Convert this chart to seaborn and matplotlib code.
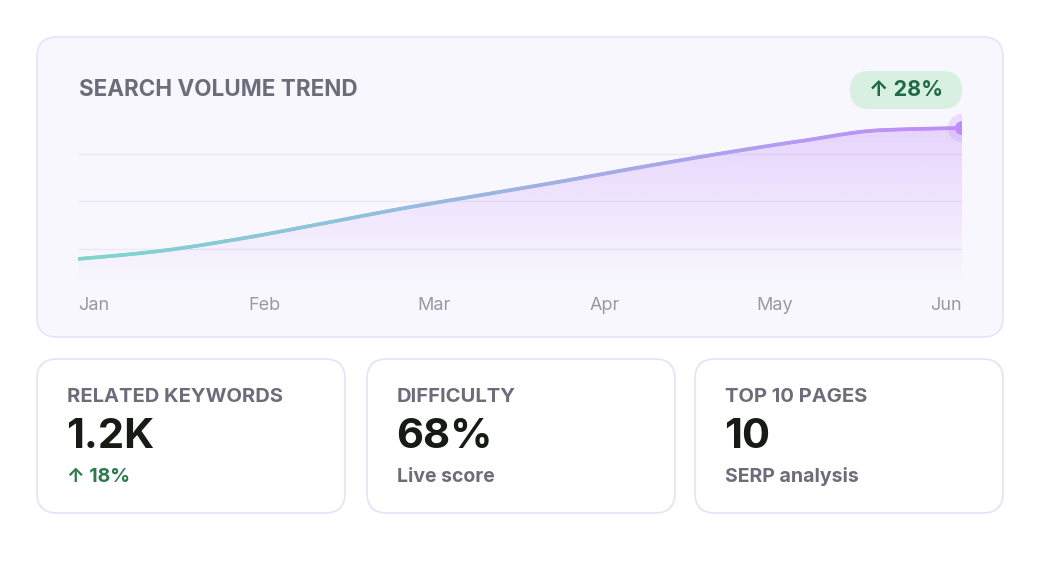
import numpy as np
import matplotlib
matplotlib.use("Agg")
import matplotlib.pyplot as plt
import seaborn as sns
from matplotlib.patches import FancyBboxPatch
from matplotlib.collections import LineCollection
from matplotlib.colors import to_rgb, LinearSegmentedColormap

# --- Data ---
volume = [19.5, 23.6, 30.0, 37.8, 45.8, 53.0, 60.2, 67.8, 75.0, 81.6, 87.3, 88.4]  # biweekly index
months = ["Jan", "Feb", "Mar", "Apr", "May", "Jun"]
trend_badge = "↑ 28%"
card_titles = ["RELATED KEYWORDS", "DIFFICULTY", "TOP 10 PAGES"]
card_values = ["1.2K", "68%", "10"]
card_notes = ["↑ 18%", "Live score", "SERP analysis"]
card_note_colors = ["#2b7a50", "#6d6c7a", "#6d6c7a"]

# --- Style ---
sns.set_theme(style="white")
plt.rcParams["font.family"] = ["Inter", "DejaVu Sans"]

W, H = 1040, 580
fig = plt.figure(figsize=(W / 100, H / 100), dpi=100)
fig.patch.set_facecolor("white")

# background axes in pixel coords
bg = fig.add_axes([0, 0, 1, 1])
bg.set_xlim(0, W)
bg.set_ylim(H, 0)
bg.axis("off")


def card(x, y, w, h, face, edge):
    bg.add_patch(FancyBboxPatch((x, y), w, h, boxstyle="round,pad=0,rounding_size=20",
                                facecolor=face, edgecolor=edge, linewidth=1.2))


card(37, 37, 966, 300, "#f9f7fe", "#e8e2f8")
bg.text(79, 90, "SEARCH VOLUME TREND", fontsize=16.2, fontweight="bold",
        color="#6d6c7a", va="center", ha="left")

# badge
bg.add_patch(FancyBboxPatch((850, 71), 112, 38, boxstyle="round,pad=0,rounding_size=19",
                            facecolor="#d8f0e2", edgecolor="none"))
bg.text(906, 90.5, trend_badge, fontsize=15.5, fontweight="bold", color="#1f6a43",
        va="center", ha="center")

# month labels, spread edge to edge
for i, m in enumerate(months):
    if i == 0:
        lx, ha = 78, "left"
    elif i == len(months) - 1:
        lx, ha = 962, "right"
    else:
        lx, ha = 94 + (945 - 94) * i / (len(months) - 1), "center"
    bg.text(lx, 305, m, fontsize=13, color="#9a98a5", va="center", ha=ha)

# --- Trend chart ---
ax = fig.add_axes([78 / W, (H - 296) / H, (962 - 78) / W, (296 - 106) / H])
ax.set_xlim(0, len(volume) - 1)
ax.set_ylim(0, 100)
ax.axis("off")
for g in (25, 50, 75):
    ax.axhline(g, color="#ece6f7", lw=1.0, zorder=1)

x = np.arange(len(volume), dtype=float)
y = np.array(volume)

# monotone cubic for display (d3-style end tangents)
d = np.diff(y) / np.diff(x)
m = np.zeros_like(y)
m[1:-1] = np.where(d[:-1] * d[1:] > 0, 2 / (1 / d[:-1] + 1 / d[1:]), 0)
m[0] = (3 * d[0] - m[1]) / 2
m[-1] = (3 * d[-1] - m[-2]) / 2
xs, ys = [], []
for i in range(len(x) - 1):
    t = np.linspace(0, 1, 40)
    h = x[i + 1] - x[i]
    h00 = 2 * t**3 - 3 * t**2 + 1
    h10 = t**3 - 2 * t**2 + t
    h01 = -2 * t**3 + 3 * t**2
    h11 = t**3 - t**2
    xs.append(x[i] + t * h)
    ys.append(h00 * y[i] + h10 * h * m[i] + h01 * y[i + 1] + h11 * h * m[i + 1])
xs = np.concatenate(xs)
ys = np.concatenate(ys)

# gradient area fill
purple = to_rgb("#c08cfa")
grad = np.zeros((256, 1, 4))
grad[:, 0, :3] = purple
vals = np.linspace(100, 0, 256)
grad[:, 0, 3] = np.clip(0.32 * (vals - 5) / (y.max() - 5), 0, 0.34)
im = ax.imshow(grad, extent=[0, len(volume) - 1, 0, 100], aspect="auto", zorder=2)
poly = ax.fill_between(xs, ys, 0, color="none")
im.set_clip_path(poly.get_paths()[0], transform=ax.transData)

# gradient line
cmap = LinearSegmentedColormap.from_list("tl", ["#7dd6cd", "#9db3e3", "#c08cfa"])
pts = np.column_stack([xs, ys]).reshape(-1, 1, 2)
segs = np.concatenate([pts[:-1], pts[1:]], axis=1)
lc = LineCollection(segs, cmap=cmap, linewidth=2.6, capstyle="round", zorder=4)
lc.set_array(xs[:-1] / xs.max())
ax.add_collection(lc)

# end point
sns.scatterplot(x=[x[-1]], y=[y[-1]], s=420, color="#c08cfa", alpha=0.25,
                edgecolor="none", ax=ax, zorder=5, legend=False)
sns.scatterplot(x=[x[-1]], y=[y[-1]], s=100, color="#c08cfa",
                edgecolor="none", ax=ax, zorder=6, legend=False)
for c in ax.collections:
    c.set_clip_on(True)

# --- KPI cards ---
card_x = [37, 367, 695]
for cx, t, v, n, nc in zip(card_x, card_titles, card_values, card_notes, card_note_colors):
    card(cx, 359, 308, 154, "white", "#e6e0f8")
    bg.text(cx + 30, 397, t, fontsize=14.5, fontweight="bold", color="#6d6c7a",
            va="center", ha="left")
    bg.text(cx + 29, 437, v, fontsize=30, fontweight="bold", color="#171a15",
            va="center", ha="left")
    bg.text(cx + 30, 477, n, fontsize=14, fontweight="bold", color=nc,
            va="center", ha="left")

fig.savefig("out.png", dpi=100, facecolor="white")
